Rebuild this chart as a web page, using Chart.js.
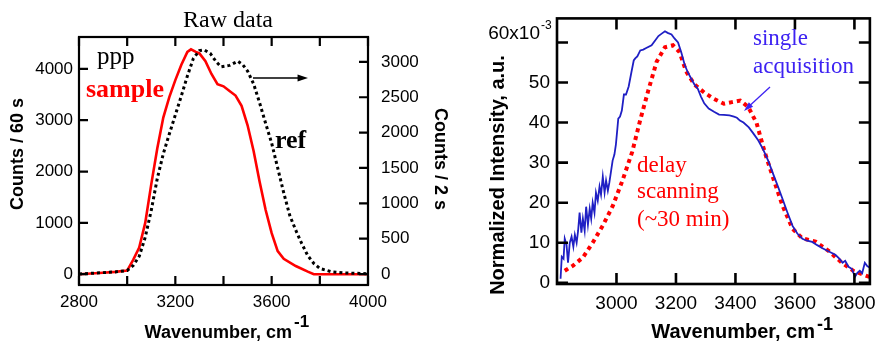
<!DOCTYPE html>
<html>
<head>
<meta charset="utf-8">
<script src="https://cdn.jsdelivr.net/npm/chart.js@4.4.1/dist/chart.umd.min.js"></script>
<style>
  html, body { margin: 0; padding: 0; background: #fff; }
  #wrap { position: relative; width: 884px; height: 344px; overflow: hidden; background: #fff; }
  #rawChart { position: absolute; left: 0; top: 0; }
  #normChart { position: absolute; left: 440px; top: 0; }
</style>
</head>
<body>
<div id="wrap">
  <canvas id="rawChart" width="460" height="344"></canvas>
  <canvas id="normChart" width="444" height="344"></canvas>
</div>
<script>
// left panel: raw counts (sample on left axis, ref on right axis)
var sampleWavenumber = [2800, 2850, 2900, 2950, 3000, 3025, 3050, 3075, 3100, 3125, 3150, 3175, 3200, 3225, 3250,
  3265, 3285, 3300, 3325, 3350, 3375, 3400, 3425, 3450, 3475, 3500, 3525, 3550, 3575, 3600,
  3625, 3650, 3700, 3750, 3775, 3850, 3900, 3950, 4000];
var sampleCounts = [0, 15, 30, 45, 70, 280, 520, 1000, 1750, 2450, 3050, 3450, 3780, 4080, 4330,
  4380, 4330, 4300, 4150, 3900, 3700, 3660, 3570, 3480, 3280, 2900, 2400, 1800, 1250, 800,
  450, 300, 160, 50, 0, 0, 0, 0, 0];

var refWavenumber = [2800, 2850, 2900, 2950, 3000, 3025, 3050, 3075, 3100, 3125, 3150, 3175, 3200, 3225, 3250,
  3275, 3300, 3320, 3345, 3370, 3390, 3425, 3460, 3480, 3500, 3525, 3550, 3575, 3600, 3625,
  3650, 3675, 3700, 3725, 3750, 3775, 3800, 3850, 3900, 3950, 4000];
var refCounts = [0, 10, 20, 30, 50, 120, 250, 520, 900, 1350, 1700, 1980, 2250, 2520, 2800,
  3050, 3160, 3170, 3120, 3000, 2930, 2950, 3010, 2960, 2870, 2690, 2420, 2130, 1850, 1500,
  1150, 830, 620, 430, 260, 150, 80, 30, 15, 10, 5];

var rawXTicks = [2800, 3000, 3200, 3400, 3600, 3800, 4000];
var rawXLabelled = [2800, 3200, 3600, 4000];
var sampleTicks = [0, 1000, 2000, 3000, 4000];
var refTicks = [0, 500, 1000, 1500, 2000, 2500, 3000];

// right panel: normalized intensity (x10^-3)
var singleWavenumber = [2812, 2816, 2822, 2826, 2832, 2837, 2843, 2849, 2855, 2860, 2866, 2871, 2876, 2882, 2887,
  2893, 2898, 2904, 2910, 2915, 2920, 2926, 2931, 2937, 2943, 2948, 2954, 2960, 2965, 2971,
  2976, 2982, 2987, 2993, 2998, 3003, 3006, 3012, 3018, 3025, 3032, 3041, 3050, 3058, 3063,
  3070, 3080, 3090, 3100, 3118, 3130, 3141, 3152, 3163, 3172, 3185, 3195, 3207, 3218, 3229,
  3240, 3251, 3262, 3273, 3284, 3295, 3310, 3328, 3345, 3361, 3380, 3395, 3405, 3415, 3427,
  3445, 3460, 3477, 3493, 3510, 3526, 3543, 3559, 3575, 3592, 3608, 3625, 3641, 3658, 3675,
  3691, 3714, 3736, 3750, 3760, 3769, 3780, 3791, 3802, 3810, 3818, 3826, 3835, 3843, 3851];
var singleIntensity = [1.0, 6.5, 6.0, 11.0, 9.5, 5.0, 10.0, 11.5, 9.0, 12.0, 10.0, 13.0, 17.5, 12.5, 16.0,
  13.0, 19.0, 14.5, 18.5, 16.0, 20.0, 17.5, 22.5, 20.5, 24.0, 22.0, 26.5, 22.5, 25.5, 23.0,
  25.0, 28.0, 30.5, 32.0, 34.5, 38.5, 41.0, 41.5, 43.0, 47.0, 47.0, 49.0, 52.5, 55.5, 56.0,
  56.5, 58.0, 58.2, 58.6, 59.3, 60.5, 61.6, 62.2, 62.8, 62.4, 62.0, 61.0, 60.0, 57.5, 54.5,
  52.5, 51.0, 49.5, 48.5, 46.5, 44.8, 43.5, 42.7, 42.0, 41.9, 41.8, 41.5, 41.2, 40.5, 40.0,
  38.8, 37.3, 35.5, 33.3, 30.5, 27.3, 24.0, 20.8, 17.5, 14.2, 12.3, 11.0, 10.5, 10.2, 9.4,
  8.7, 7.8, 7.0, 6.0, 5.0, 5.5, 4.0, 3.5, 1.5, 2.5, 3.0, 2.4, 5.0, 4.2, 3.8];

var delayWavenumber = [2826, 2854, 2887, 2920, 2954, 2987, 3020, 3053, 3080, 3107, 3135, 3163, 3190, 3212, 3234,
  3262, 3295, 3328, 3361, 3388, 3416, 3443, 3471, 3498, 3526, 3559, 3592, 3625, 3669, 3714,
  3758, 3796, 3835, 3857];
var delayIntensity = [3.0, 4.3, 6.3, 10.0, 14.3, 19.1, 25.5, 32.7, 40.7, 48.0, 55.2, 58.8, 59.3, 57.6, 52.8,
  49.5, 47.5, 45.9, 44.7, 45.1, 45.5, 43.9, 39.9, 32.7, 26.3, 19.1, 13.5, 11.1, 10.3, 7.9,
  5.0, 3.0, 1.9, 1.3];

var normXTicks = [3000, 3200, 3400, 3600, 3800];
var normYTicks = [0, 10, 20, 30, 40, 50, 60];

var SANS = '"Liberation Sans", Arial, sans-serif';
var SERIF = '"Liberation Serif", "Times New Roman", serif';

function pairs(xs, ys) {
  return xs.map(function(x, i) { return { x: x, y: ys[i] }; });
}

function fixedTicks(values) {
  return function(scale) {
    scale.ticks = values.map(function(v) { return { value: v }; });
  };
}

/**
 * Box around the plot area with inward tick marks on all four sides.
 */
function frameTicks(leftId, rightId, tickLen, lineW) {
  return {
    id: 'frameTicks',
    afterDatasetsDraw: function(chart) {
      var ctx = chart.ctx;
      var area = chart.chartArea;
      var xs = chart.scales.x;
      var yl = chart.scales[leftId];
      var yr = chart.scales[rightId];
      ctx.save();
      ctx.strokeStyle = '#000';
      ctx.lineWidth = lineW;
      ctx.beginPath();
      xs.ticks.forEach(function(t) {
        var p = xs.getPixelForValue(t.value);
        ctx.moveTo(p, area.bottom);
        ctx.lineTo(p, area.bottom - tickLen);
        ctx.moveTo(p, area.top);
        ctx.lineTo(p, area.top + tickLen);
      });
      yl.ticks.forEach(function(t) {
        var p = yl.getPixelForValue(t.value);
        ctx.moveTo(area.left, p);
        ctx.lineTo(area.left + tickLen, p);
      });
      yr.ticks.forEach(function(t) {
        var p = yr.getPixelForValue(t.value);
        ctx.moveTo(area.right, p);
        ctx.lineTo(area.right - tickLen, p);
      });
      ctx.stroke();
      ctx.strokeRect(area.left, area.top, area.right - area.left, area.bottom - area.top);
      ctx.restore();
    }
  };
}

/**
 * Free text and arrows drawn on top of the chart.
 */
function notes(texts, arrows) {
  return {
    id: 'notes',
    afterDraw: function(chart) {
      var ctx = chart.ctx;
      ctx.save();
      texts.forEach(function(t) {
        ctx.save();
        ctx.translate(t.x, t.y);
        if (t.rotate) {
          ctx.rotate(t.rotate);
        }
        ctx.font = t.font;
        ctx.fillStyle = t.color || '#000';
        ctx.textAlign = t.align || 'left';
        ctx.textBaseline = t.baseline || 'alphabetic';
        ctx.fillText(t.text, 0, 0);
        ctx.restore();
      });
      arrows.forEach(function(a) {
        var ang = Math.atan2(a.y2 - a.y1, a.x2 - a.x1);
        var head = a.head;
        ctx.strokeStyle = a.color;
        ctx.fillStyle = a.color;
        ctx.lineWidth = a.width;
        ctx.beginPath();
        ctx.moveTo(a.x1, a.y1);
        ctx.lineTo(a.x2 - Math.cos(ang) * head * 0.8, a.y2 - Math.sin(ang) * head * 0.8);
        ctx.stroke();
        ctx.beginPath();
        ctx.moveTo(a.x2, a.y2);
        ctx.lineTo(a.x2 - Math.cos(ang - 0.32) * head, a.y2 - Math.sin(ang - 0.32) * head);
        ctx.lineTo(a.x2 - Math.cos(ang + 0.32) * head, a.y2 - Math.sin(ang + 0.32) * head);
        ctx.closePath();
        ctx.fill();
      });
      ctx.restore();
    }
  };
}

function tickFont(size) {
  return { family: SANS, size: size };
}

// no grid, no chart.js tick marks; the frame plugin draws them inward
var noGrid = { display: false, drawTicks: false };

var rawTexts = [
  { text: 'Raw data', x: 228, y: 27, font: '24px ' + SERIF, align: 'center' },
  { text: 'ppp', x: 97, y: 64, font: '25px ' + SERIF },
  { text: 'sample', x: 86, y: 97, font: 'bold 26px ' + SERIF, color: '#ff0000' },
  { text: 'ref', x: 275, y: 148, font: 'bold 26px ' + SERIF },
  { text: 'Counts / 60 s', x: 18, y: 154, font: 'bold 18px ' + SANS, align: 'center', baseline: 'middle', rotate: -Math.PI / 2 },
  { text: 'Counts / 2 s', x: 440, y: 159, font: 'bold 18px ' + SANS, align: 'center', baseline: 'middle', rotate: Math.PI / 2 },
  { text: 'Wavenumber, cm', x: 292, y: 338, font: 'bold 18px ' + SANS, align: 'right' },
  { text: '-1', x: 294, y: 327, font: 'bold 17px ' + SANS }
];
var rawArrows = [
  { x1: 253, y1: 78, x2: 308, y2: 78, color: '#000', width: 1.6, head: 11 }
];

var normTexts = [
  { text: 'single', x: 313, y: 45, font: '23px ' + SERIF, color: '#3d22f2' },
  { text: 'acquisition', x: 313, y: 73, font: '23px ' + SERIF, color: '#3d22f2' },
  { text: 'delay', x: 197, y: 172, font: '23px ' + SERIF, color: '#ff0000' },
  { text: 'scanning', x: 197, y: 198, font: '23px ' + SERIF, color: '#ff0000' },
  { text: '(~30 min)', x: 197, y: 226, font: '23px ' + SERIF, color: '#ff0000' },
  { text: 'Normalized Intensity, a.u.', x: 58, y: 175, font: 'bold 20px ' + SANS, align: 'center', baseline: 'middle', rotate: -Math.PI / 2 },
  { text: 'Wavenumber, cm', x: 375, y: 338, font: 'bold 20px ' + SANS, align: 'right' },
  { text: '-1', x: 377, y: 330, font: 'bold 18px ' + SANS },
  { text: '60x10', x: 100, y: 34, font: '19px ' + SANS, align: 'right', baseline: 'middle' },
  { text: '-3', x: 101, y: 29, font: '12px ' + SANS }
];
var normArrows = [
  { x1: 330, y1: 87, x2: 304, y2: 111, color: '#3d22f2', width: 1.3, head: 10 }
];

new Chart(document.getElementById('rawChart'), {
  type: 'line',
  data: {
    datasets: [{
      data: pairs(sampleWavenumber, sampleCounts),
      borderColor: '#ff0000',
      borderWidth: 2.6,
      yAxisID: 'y',
      order: 2
    }, {
      data: pairs(refWavenumber, refCounts),
      borderColor: '#000000',
      borderWidth: 3,
      borderDash: [3, 3],
      yAxisID: 'y2',
      order: 1
    }]
  },
  options: {
    responsive: false,
    animation: false,
    layout: { padding: { top: 37, right: 20, left: 0, bottom: 0 } },
    elements: { point: { radius: 0 }, line: { tension: 0, borderCapStyle: 'butt' } },
    plugins: { legend: { display: false }, tooltip: { enabled: false } },
    scales: {
      x: {
        type: 'linear', min: 2800, max: 4000,
        grid: noGrid, border: { display: false },
        afterBuildTicks: fixedTicks(rawXTicks),
        afterFit: function(s) { s.height = 59; },
        ticks: {
          autoSkip: false, maxRotation: 0, padding: 7, color: '#000', font: tickFont(17),
          callback: function(v) { return rawXLabelled.indexOf(v) >= 0 ? String(v) : ''; }
        }
      },
      y: {
        position: 'left', min: -210, max: 4620,
        grid: noGrid, border: { display: false },
        afterBuildTicks: fixedTicks(sampleTicks),
        afterFit: function(s) { s.width = 79; },
        ticks: { padding: 6, color: '#000', font: tickFont(17), callback: function(v) { return String(v); } }
      },
      y2: {
        position: 'right', min: -155, max: 3352,
        grid: noGrid, border: { display: false },
        afterBuildTicks: fixedTicks(refTicks),
        afterFit: function(s) { s.width = 72; },
        ticks: { padding: 13, color: '#000', font: tickFont(17), callback: function(v) { return String(v); } }
      }
    }
  },
  plugins: [frameTicks('y', 'y2', 9, 2.2), notes(rawTexts, rawArrows)]
});

new Chart(document.getElementById('normChart'), {
  type: 'line',
  data: {
    datasets: [{
      data: pairs(singleWavenumber, singleIntensity),
      borderColor: '#1f1fc4',
      borderWidth: 1.8,
      order: 1
    }, {
      data: pairs(delayWavenumber, delayIntensity),
      borderColor: '#ff0000',
      borderWidth: 4,
      borderDash: [4, 4],
      order: 2
    }]
  },
  options: {
    responsive: false,
    animation: false,
    layout: { padding: { top: 8, right: 9, left: 0, bottom: 0 } },
    elements: { point: { radius: 0 }, line: { tension: 0, borderCapStyle: 'butt' } },
    plugins: { legend: { display: false }, tooltip: { enabled: false } },
    scales: {
      x: {
        type: 'linear', min: 2800, max: 3852,
        grid: noGrid, border: { display: false },
        afterBuildTicks: fixedTicks(normXTicks),
        afterFit: function(s) { s.height = 60; },
        ticks: {
          autoSkip: false, maxRotation: 0, padding: 8, color: '#000', font: tickFont(19),
          callback: function(v) { return String(v); }
        }
      },
      y: {
        position: 'left', min: -0.3, max: 66,
        grid: noGrid, border: { display: false },
        afterBuildTicks: fixedTicks(normYTicks),
        afterFit: function(s) { s.width = 117; },
        ticks: {
          padding: 7, color: '#000', font: tickFont(19),
          callback: function(v) { return v === 60 ? '' : String(v); }
        }
      }
    }
  },
  plugins: [frameTicks('y', 'y', 11, 2.6), notes(normTexts, normArrows)]
});
</script>
</body>
</html>
